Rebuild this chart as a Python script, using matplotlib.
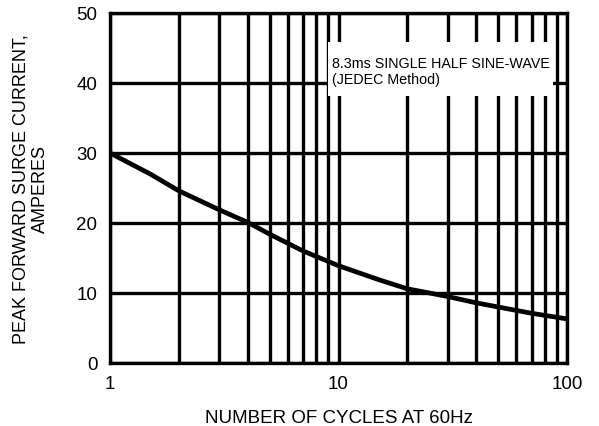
import numpy as np
import matplotlib
matplotlib.use("Agg")
import matplotlib.pyplot as plt
from matplotlib.patches import Rectangle
from matplotlib.ticker import FixedLocator, NullFormatter

plt.rcParams['font.family'] = ['Liberation Sans', 'DejaVu Sans']

# curve
cycles = [1, 1.5, 2, 3, 4, 5, 7, 10, 15, 20, 25, 30, 40, 50, 70, 100]
current = [30, 27.0, 24.6, 21.9, 20.1, 18.4, 16.0, 13.9, 11.9, 10.6, 10.0, 9.5, 8.6, 8.0, 7.1, 6.3]

y_ticks = [0, 10, 20, 30, 40, 50]
x_ticks = [1, 10, 100]
x_minor = [2, 3, 4, 5, 6, 7, 8, 9, 20, 30, 40, 50, 60, 70, 80, 90]

fig = plt.figure(figsize=(5.99, 4.27), dpi=100)
ax = fig.add_axes([110 / 599, 1 - 364 / 427, 457 / 599, 350 / 427])

ax.set_xscale('log')
ax.set_xlim(1, 100)
ax.set_ylim(0, 50)
ax.xaxis.set_major_locator(FixedLocator(x_ticks))
ax.xaxis.set_minor_locator(FixedLocator(x_minor))
ax.xaxis.set_minor_formatter(NullFormatter())
ax.set_xticks(x_ticks)
ax.set_xticklabels([str(v) for v in x_ticks])
ax.set_yticks(y_ticks)

ax.grid(True, which='both', axis='x', color='black', lw=2.4)
ax.grid(True, which='major', axis='y', color='black', lw=2.4)
ax.set_axisbelow(True)
for s in ax.spines.values():
    s.set_linewidth(2.4)
ax.tick_params(which='both', length=0, labelsize=13.5, pad=9)

ax.plot(cycles, current, color='black', lw=3.4, solid_capstyle='butt', zorder=3)

# white patch behind the note
ax.add_patch(Rectangle((0.477, 0.763), 0.492, 0.154, transform=ax.transAxes,
                       facecolor='white', edgecolor='none', zorder=2.5))
ax.text(0.486, 0.877, "8.3ms SINGLE HALF SINE-WAVE\n(JEDEC Method)",
        transform=ax.transAxes, fontsize=10.3, va='top', ha='left',
        linespacing=1.2, zorder=4)

ax.set_xlabel("NUMBER OF CYCLES AT 60Hz", fontsize=13.5, labelpad=12)
ax.set_ylabel("PEAK FORWARD SURGE CURRENT,\nAMPERES", fontsize=13, labelpad=20)

fig.savefig("out.png", dpi=100)
